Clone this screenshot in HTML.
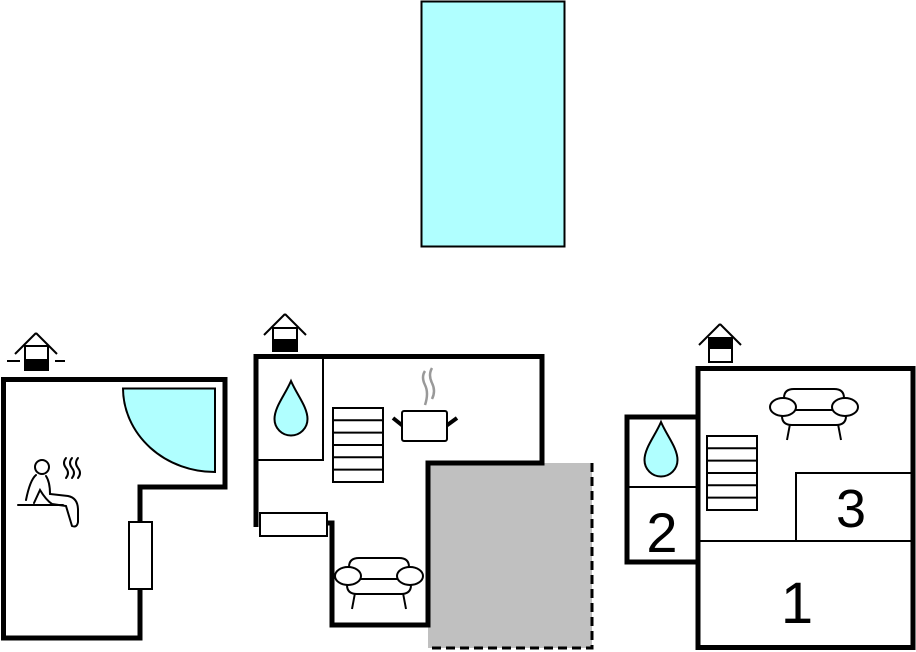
<!DOCTYPE html>
<html><head><style>html,body{margin:0;padding:0;background:#fff;}svg{display:block;}</style></head>
<body>
<svg width="916" height="652" viewBox="0 0 916 652" xmlns="http://www.w3.org/2000/svg" font-family="Liberation Sans, sans-serif">
<defs>
<g id="sofa" fill="#fff" stroke="#000" stroke-width="2">
  <line x1="20" y1="36" x2="17" y2="52"/><line x1="68" y1="36" x2="71" y2="52"/>
  <path d="M22 37 Q12 37 12 28 L12 22 L76 22 L76 28 Q76 37 66 37 Z"/>
  <path d="M14 22 L14 10 Q14 1 24 1 L64 1 Q74 1 74 10 L74 22 Z"/>
  <line x1="14" y1="22" x2="74" y2="22"/>
  <ellipse cx="13" cy="19" rx="13" ry="9"/>
  <ellipse cx="75" cy="19" rx="13" ry="9"/>
</g>
<g id="stairs" fill="#fff" stroke="#000" stroke-width="2">
  <rect x="0" y="0" width="50" height="74"/>
  <line x1="0" y1="12.3" x2="50" y2="12.3"/><line x1="0" y1="24.6" x2="50" y2="24.6"/>
  <line x1="0" y1="37" x2="50" y2="37"/><line x1="0" y1="49.3" x2="50" y2="49.3"/>
  <line x1="0" y1="61.6" x2="50" y2="61.6"/>
</g>
<path id="drop" d="M0 0 C-6 14 -16.5 26 -16.5 38 A16.5 16.5 0 0 0 16.5 38 C16.5 26 6 14 0 0 Z" fill="#b0ffff" stroke="#000" stroke-width="2"/>
</defs>

<rect x="421.5" y="1.5" width="143" height="245" fill="#b0ffff" stroke="#000" stroke-width="2"/>

<g>
  <path d="M36 333 L15 354 M36 333 L57 354" stroke="#000" stroke-width="2" fill="none"/>
  <rect x="25" y="346" width="23" height="24" fill="#fff" stroke="#000" stroke-width="2"/>
  <rect x="24" y="359" width="25" height="12" fill="#000"/>
  <line x1="7" y1="361" x2="20" y2="361" stroke="#000" stroke-width="2"/>
  <line x1="55" y1="361" x2="65" y2="361" stroke="#000" stroke-width="2"/>
  <path d="M3.5 379.5 L225 379.5 L225 487 L140 487 L140 638 L3.5 638 Z" fill="#fff" stroke="#000" stroke-width="5"/>
  <path d="M123 388.5 L215 388.5 L215 472 A92 84 0 0 1 123 388.5 Z" fill="#b0ffff" stroke="#000" stroke-width="2"/>
  <rect x="129" y="522" width="23" height="67" fill="#fff" stroke="#000" stroke-width="2"/>
  <g fill="none" stroke="#000" stroke-width="2" stroke-linecap="round">
    <circle cx="42" cy="467" r="7"/>
    <path d="M36 475 Q30 480 26 500 M46 476 Q50 482 50 494 L68 496 Q78 498 78 510 L78 522 Q77 528 72 526 L66 506 L52 504 Q46 500 40 490 L34 503"/>
    <line x1="18" y1="505" x2="63" y2="505"/>
    <path d="M66 458 Q62 463 66 468 Q70 473 66 478 M72 458 Q68 463 72 468 Q76 473 72 478 M78 458 Q74 463 78 468 Q82 473 78 478"/>
  </g>
</g>

<g>
  <path d="M285 314 L264 335 M285 314 L306 335" stroke="#000" stroke-width="2" fill="none"/>
  <rect x="273" y="328" width="24" height="23" fill="#fff" stroke="#000" stroke-width="2"/>
  <rect x="272" y="339" width="26" height="12" fill="#000"/>
  <rect x="428" y="463" width="164" height="185" fill="#c0c0c0"/>
  <path d="M592 463 L592 648 L428 648" fill="none" stroke="#000" stroke-width="3" stroke-dasharray="9,5"/>
  <path d="M256 527 L256 356.5 L542 356.5 L542 463 L428 463 L428 625 L332 625 L332 523 L326 523" fill="none" stroke="#000" stroke-width="5"/>
  <rect x="256" y="357" width="67" height="103" fill="none" stroke="#000" stroke-width="2"/>
  <use href="#drop" x="291" y="381"/>
  <use href="#stairs" x="333" y="408"/>
  <rect x="260" y="513" width="67" height="23" fill="#fff" stroke="#000" stroke-width="2"/>
  <path d="M425 371 Q421 377 425 385 Q429 393 425 405 M432 368 Q428 375 432 383 Q436 391 432 399" fill="none" stroke="#999" stroke-width="2.5"/>
  <line x1="393" y1="418" x2="403" y2="426" stroke="#000" stroke-width="4"/>
  <line x1="457" y1="418" x2="446" y2="426" stroke="#000" stroke-width="4"/>
  <rect x="402" y="411" width="45" height="30" rx="2" fill="#fff" stroke="#000" stroke-width="2"/>
  <use href="#sofa" x="335" y="557"/>
</g>

<g>
  <path d="M720 324 L699 345 M720 324 L741 345" stroke="#000" stroke-width="2" fill="none"/>
  <rect x="709" y="338" width="23" height="24" fill="#fff" stroke="#000" stroke-width="2"/>
  <rect x="708" y="337" width="25" height="12" fill="#000"/>
  <rect x="698" y="368.5" width="215" height="279" fill="#fff" stroke="#000" stroke-width="5"/>
  <rect x="627" y="417" width="71" height="145" fill="#fff" stroke="#000" stroke-width="5"/>
  <line x1="698" y1="420" x2="698" y2="560" stroke="#000" stroke-width="2"/>
  <line x1="628" y1="487" x2="698" y2="487" stroke="#000" stroke-width="2"/>
  <line x1="698" y1="541" x2="912" y2="541" stroke="#000" stroke-width="2"/>
  <path d="M796 541 L796 473 L912 473" fill="none" stroke="#000" stroke-width="2"/>
  <use href="#drop" x="661" y="422"/>
  <use href="#stairs" x="707" y="436"/>
  <use href="#sofa" x="770" y="388"/>
  <text x="662" y="552" font-size="56" text-anchor="middle">2</text>
  <text x="851" y="527" font-size="54" text-anchor="middle">3</text>
  <text x="797" y="623" font-size="58" text-anchor="middle">1</text>
</g>
</svg>
</body></html>
